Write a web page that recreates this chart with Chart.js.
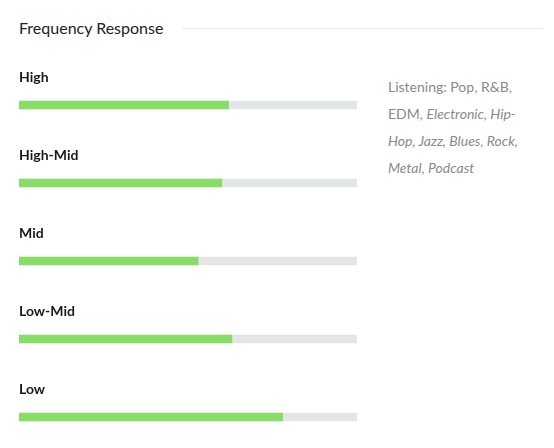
<!DOCTYPE html>
<html>
<head>
<meta charset="utf-8">
<script src="https://cdn.jsdelivr.net/npm/chart.js@4"></script>
<style>
  html, body { margin: 0; padding: 0; background: #fff; }
  body { width: 554px; height: 448px; position: relative; overflow: hidden; font-family: Lato, sans-serif; }
  #titre { position: absolute; left: 19px; top: 18px; font-size: 16px; color: #222; white-space: nowrap; }
  #ligne { position: absolute; left: 182px; top: 28px; width: 361px; height: 1px; background: #e8e8e8; }
  #genres { position: absolute; left: 388px; top: 73px; width: 150px; font-size: 14px; line-height: 27px; color: #8a8a8a; }
  #zone { position: absolute; left: 19px; top: 66px; width: 338px; height: 390px; }
</style>
</head>
<body>
<div id="titre">Frequency Response</div>
<div id="ligne"></div>
<div id="genres">Listening: Pop, R&amp;B, EDM, <i>Electronic, Hip-Hop, Jazz, Blues, Rock, Metal, Podcast</i></div>
<div id="zone"><canvas id="grafico"></canvas></div>
<script>
const faixas = ['High', 'High-Mid', 'Mid', 'Low-Mid', 'Low'];
const niveis = [62, 60, 53, 63, 78];
const maximo = [100, 100, 100, 100, 100];

// escreve o nome de cada faixa acima da barra
const rotulos = {
    id: 'rotulos',
    afterDatasetsDraw(chart) {
        const ctx = chart.ctx;
        const barras = chart.getDatasetMeta(1).data;
        ctx.save();
        ctx.font = 'bold 14px Lato, sans-serif';
        ctx.fillStyle = '#1a1a1a';
        ctx.textBaseline = 'middle';
        ctx.textAlign = 'left';
        barras.forEach((b, i) => {
            ctx.fillText(faixas[i], chart.chartArea.left, b.y - 28);
        });
        ctx.restore();
    }
};

new Chart(document.getElementById('grafico').getContext('2d'), {
    type: 'bar',
    data: {
        labels: faixas,
        datasets: [
            {
                label: 'Nivel',
                data: niveis,
                backgroundColor: '#88dd66',
                barThickness: 8,
                grouped: false,
                order: 0
            },
            {
                label: 'Fundo',
                data: maximo,
                backgroundColor: '#e3e6e6',
                barThickness: 8,
                grouped: false,
                order: 1
            }
        ]
    },
    options: {
        indexAxis: 'y',
        responsive: true,
        maintainAspectRatio: false,
        animation: false,
        layout: { padding: 0 },
        plugins: {
            legend: { display: false },
            tooltip: { enabled: false }
        },
        scales: {
            x: { min: 0, max: 100, display: false },
            y: { display: false }
        }
    },
    plugins: [rotulos]
});
</script>
</body>
</html>
